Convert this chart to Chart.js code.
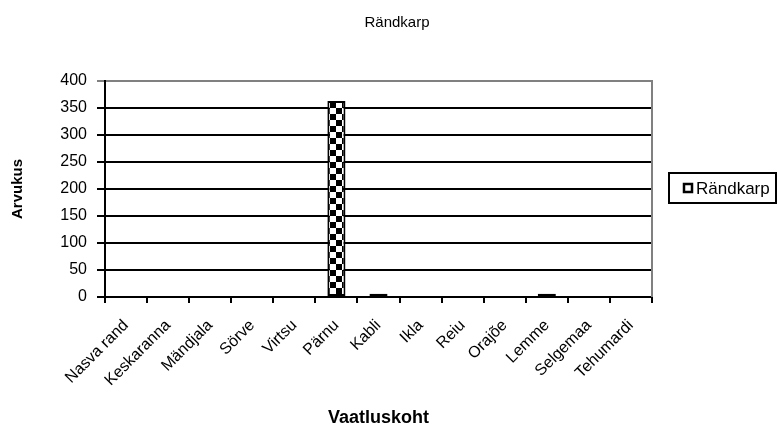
<html>
  <head>
    <title>Rändkarp</title>
    <script src="https://cdn.jsdelivr.net/npm/chart.js"></script>
    <style>
      body { margin: 0; background: #fff; }
      #wrap { width: 778px; height: 429px; }
    </style>
  </head>
  <body>
    <div id="wrap">
      <canvas id="myChart" width="778" height="429"></canvas>
    </div>

  <script>

    const places = ["Nasva rand", "Keskaranna", "Mändjala", "Sörve", "Virtsu", "Pärnu", "Kabli", "Ikla", "Reiu", "Orajõe", "Lemme", "Selgemaa", "Tehumardi"];
    const counts = [0, 0, 0, 0, 0, 363, 6, 0, 0, 0, 6, 0, 0];
    const seriesName = "Rändkarp";
    const yTicks = [0, 50, 100, 150, 200, 250, 300, 350, 400];

    const font = "Liberation Sans, Arial, sans-serif";

    // checkerboard fill like the old excel bar
    function checker(size) {
      let c = document.createElement('canvas');
      c.width = size * 2;
      c.height = size * 2;
      let g = c.getContext('2d');
      g.fillStyle = '#fff';
      g.fillRect(0, 0, size * 2, size * 2);
      g.fillStyle = '#000';
      g.fillRect(0, 0, size, size);
      g.fillRect(size, size, size, size);
      return g.createPattern(c, 'repeat');
    }

    const frame = {
      id: 'frame',
      afterDraw(chart) {
        let ctx = chart.ctx;
        let a = chart.chartArea;
        ctx.save();
        // gray plot border on right
        ctx.strokeStyle = '#808080';
        ctx.lineWidth = 2;
        ctx.beginPath();
        ctx.moveTo(a.right, a.top - 1);
        ctx.lineTo(a.right, a.bottom);
        ctx.stroke();

        // title
        ctx.fillStyle = '#000';
        ctx.font = "15px " + font;
        ctx.textAlign = 'center';
        ctx.textBaseline = 'middle';
        ctx.fillText(seriesName, 397, 23);

        // legend box
        let x = 669, y = 173, w = 107, h = 30;
        ctx.strokeStyle = '#000';
        ctx.lineWidth = 2;
        ctx.strokeRect(x, y, w, h);
        ctx.fillStyle = '#fff';
        ctx.fillRect(x + 15, y + 11, 8, 8);
        ctx.lineWidth = 2.5;
        ctx.strokeRect(x + 15, y + 11, 8, 8);
        ctx.fillStyle = '#000';
        ctx.font = "17px " + font;
        ctx.textAlign = 'left';
        ctx.fillText(chart.data.datasets[0].label, x + 27, y + 16);
        ctx.restore();
      }
    };

    const data = {
      labels: places,
      datasets: [{
        label: seriesName,
        data: counts,
        backgroundColor: checker(6),
        borderColor: '#000',
        borderWidth: 2,
        borderSkipped: false,
        barPercentage: 0.43,
        categoryPercentage: 1
      }]
    };

    const config = {
      type: 'bar',
      data: data,
      plugins: [frame],
      options: {
        responsive: false,
        animation: false,
        layout: { padding: { left: 0, right: 126, top: 81, bottom: 0 } },
        plugins: {
          legend: { display: false },
          tooltip: { enabled: false },
          title: { display: false }
        },
        scales: {
          x: {
            afterFit(scale) { scale.height = 132; },
            grid: {
              drawOnChartArea: false,
              drawTicks: true,
              tickLength: 6,
              color: '#000',
              lineWidth: 2
            },
            border: { color: '#000', width: 2 },
            ticks: {
              color: '#000',
              font: { family: font, size: 16 },
              maxRotation: 45,
              minRotation: 45,
              autoSkip: false,
              padding: 13
            },
            title: {
              display: true,
              text: 'Vaatluskoht',
              color: '#000',
              font: { family: font, size: 18, weight: 'bold' },
              padding: { top: 0, bottom: 0 }
            }
          },
          y: {
            min: 0,
            max: 400,
            afterFit(scale) { scale.width = 105; },
            afterBuildTicks(scale) {
              scale.ticks = yTicks.map(v => ({ value: v }));
            },
            grid: {
              color: ctx => (ctx.tick && ctx.tick.value === 400) ? '#808080' : '#000',
              lineWidth: 2,
              tickLength: 8
            },
            border: { color: '#000', width: 2 },
            ticks: {
              color: '#000',
              font: { family: font, size: 16 },
              padding: 10
            },
            title: {
              display: true,
              text: 'Arvukus',
              color: '#000',
              font: { family: font, size: 15, weight: 'bold' },
              padding: { top: 9, bottom: 0 }
            }
          }
        }
      }
    };

    window.myChart = new Chart(
      document.getElementById('myChart'),
      config
    );

  </script>
  </body>
</html>
